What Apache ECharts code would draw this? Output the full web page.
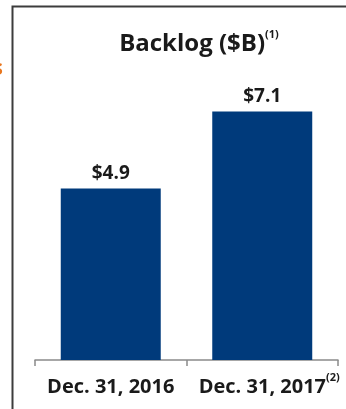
<!DOCTYPE html>
<html>
<head>
<meta charset="utf-8">
<script src="https://cdn.jsdelivr.net/npm/echarts@6/dist/echarts.min.js"></script>
<style>
html,body{margin:0;padding:0;background:#fff;}
#c{width:346px;height:409px;}
</style>
</head>
<body>
<div id="c"></div>
<script>
const categories = ['Dec. 31, 2016', 'Dec. 31, 2017'];
const categoryNotes = ['', '(2)'];
const backlog = [4.9, 7.1];
const valueLabels = ['$4.9', '$7.1'];
const titleText = 'Backlog ($B)';
const titleNote = '(1)';

const FONT = '"Open Sans", "DejaVu Sans", sans-serif';
const chart = echarts.init(document.getElementById('c'), null, {renderer: 'canvas'});
chart.setOption({
  animation: false,
  backgroundColor: '#ffffff',
  title: {
    text: '{t|' + titleText + '}{s|' + titleNote + '}',
    left: 194, textAlign: 'center', top: 24,
    textStyle: {
      rich: {
        t: {fontFamily: FONT, fontWeight: 'bold', fontSize: 24, lineHeight: 30, color: '#1a1a1a'},
        s: {fontFamily: FONT, fontWeight: 'bold', fontSize: 11, lineHeight: 16, color: '#1a1a1a', verticalAlign: 'top'}
      }
    }
  },
  grid: {left: 35, right: 8, top: 80, bottom: 49},
  xAxis: {
    type: 'category',
    data: categories,
    boundaryGap: true,
    axisLine: {show: true, lineStyle: {color: '#8a8a8a', width: 1.5}},
    axisTick: {show: true, length: 6, lineStyle: {color: '#8a8a8a', width: 1.5}},
    axisLabel: {
      margin: 12,
      interval: 0,
      formatter: function (v, i) {
        return categoryNotes[i] ? '{b|' + v + '}{s|' + categoryNotes[i] + '}' : '{a|' + v + '}';
      },
      rich: {
        a: {fontFamily: FONT, fontWeight: 'bold', fontSize: 20, lineHeight: 24, padding: [6, 0, 0, 0], color: '#1a1a1a'},
        b: {fontFamily: FONT, fontWeight: 'bold', fontSize: 20, lineHeight: 24, padding: [6, 0, 0, 14], color: '#1a1a1a'},
        s: {fontFamily: FONT, fontWeight: 'bold', fontSize: 11, lineHeight: 11, color: '#1a1a1a', verticalAlign: 'top'}
      }
    }
  },
  yAxis: {
    type: 'value', min: 0, max: 8,
    show: false,
    splitLine: {show: false}
  },
  series: [{
    type: 'bar',
    data: backlog,
    barWidth: '66%',
    itemStyle: {color: '#003a7b'},
    label: {
      show: true, position: 'top', distance: 5,
      formatter: function (p) { return valueLabels[p.dataIndex]; },
      fontFamily: FONT, fontWeight: 'bold', fontSize: 19, color: '#1a1a1a'
    }
  }],
  graphic: [
    {type: 'polyline', shape: {points: [[12.5, 409], [12.5, 6.5], [346, 6.5]]},
     style: {stroke: '#3c3c3c', lineWidth: 2, fill: null}, silent: true},
    {type: 'text', left: -8, top: 58,
     style: {text: 's', fontFamily: FONT, fontWeight: 'bold', fontSize: 22, fill: '#e8761e'}}
  ]
});
</script>
</body>
</html>
